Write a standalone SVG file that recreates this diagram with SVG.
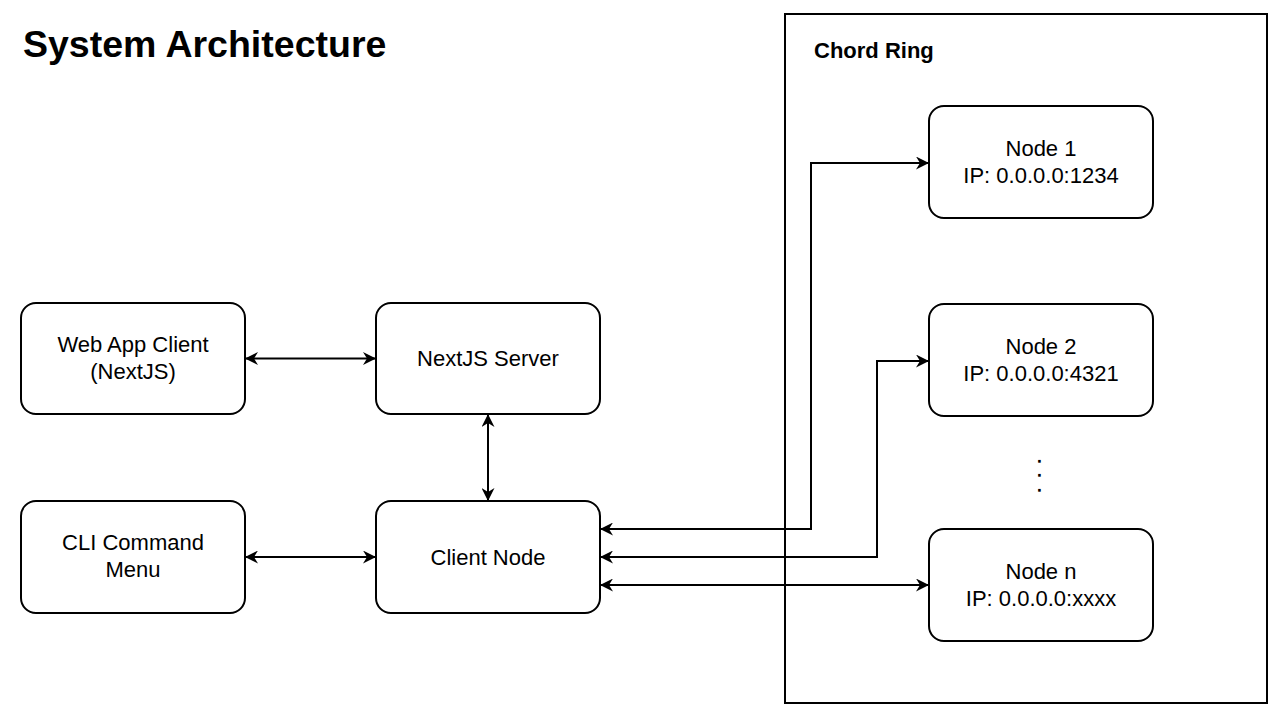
<svg xmlns="http://www.w3.org/2000/svg" width="1280" height="716" viewBox="0 0 1280 716">
  <defs>
    <style>
      .box { fill: #ffffff; stroke: #000000; stroke-width: 2; }
      .label { font-family: "Liberation Sans", Arial, Helvetica, sans-serif; font-size: 22px; fill: #000000; text-anchor: middle; }
      .dots { font-family: "Liberation Sans", Arial, Helvetica, sans-serif; font-size: 12px; fill: #000000; stroke: #000000; stroke-width: 1.4; text-anchor: middle; }
      .title { font-family: "Liberation Sans", Arial, Helvetica, sans-serif; font-weight: bold; fill: #000000; }
      .edge { fill: none; stroke: #000000; stroke-width: 2; marker-start: url(#arrow); marker-end: url(#arrow); }
    </style>
    <marker id="arrow" viewBox="0 0 13 13" refX="13" refY="6.5" markerWidth="13" markerHeight="13" markerUnits="userSpaceOnUse" orient="auto-start-reverse">
      <path d="M0,0 L13,6.5 L0,13 L4,6.5 Z" fill="#000000" stroke="none"/>
    </marker>
  </defs>
  <rect width="1280" height="716" fill="#ffffff"/>

  <text class="title" x="23" y="57" font-size="37.5">System Architecture</text>

  <g id="chord-ring">
    <rect x="785" y="14" width="482" height="689" fill="none" stroke="#000000" stroke-width="2"/>
    <text class="title" x="814" y="58" font-size="22">Chord Ring</text>
  </g>

  <g id="web-app-client">
    <rect class="box" x="21" y="303" width="224" height="111" rx="15" ry="15"/>
    <text class="label" x="133" y="352">Web App Client</text>
    <text class="label" x="133" y="379">(NextJS)</text>
  </g>

  <g id="nextjs-server">
    <rect class="box" x="376" y="303" width="224" height="111" rx="15" ry="15"/>
    <text class="label" x="488" y="366">NextJS Server</text>
  </g>

  <g id="cli-command-menu">
    <rect class="box" x="21" y="501" width="224" height="112" rx="15" ry="15"/>
    <text class="label" x="133" y="550">CLI Command</text>
    <text class="label" x="133" y="577">Menu</text>
  </g>

  <g id="client-node">
    <rect class="box" x="376" y="501" width="224" height="112" rx="15" ry="15"/>
    <text class="label" x="488" y="565">Client Node</text>
  </g>

  <g id="node-1">
    <rect class="box" x="929" y="106" width="224" height="112" rx="15" ry="15"/>
    <text class="label" x="1041" y="156">Node 1</text>
    <text class="label" x="1041" y="183">IP: 0.0.0.0:1234</text>
  </g>

  <g id="node-2">
    <rect class="box" x="929" y="304" width="224" height="112" rx="15" ry="15"/>
    <text class="label" x="1041" y="354">Node 2</text>
    <text class="label" x="1041" y="381">IP: 0.0.0.0:4321</text>
  </g>

  <g id="ellipsis">
    <text class="dots" x="1039.5" y="461.5"><tspan x="1039.5" y="461.5">.</tspan><tspan x="1039.5" y="476">.</tspan><tspan x="1039.5" y="491">.</tspan></text>
  </g>

  <g id="node-n">
    <rect class="box" x="929" y="529" width="224" height="112" rx="15" ry="15"/>
    <text class="label" x="1041" y="579">Node n</text>
    <text class="label" x="1041" y="606">IP: 0.0.0.0:xxxx</text>
  </g>

  <g id="connectors">
    <path class="edge" d="M245,358.5 L376,358.5"/>
    <path class="edge" d="M245,557 L376,557"/>
    <path class="edge" d="M488,414 L488,501"/>
    <path class="edge" d="M600,529 L811,529 L811,163 L929,163"/>
    <path class="edge" d="M600,557 L877,557 L877,361 L929,361"/>
    <path class="edge" d="M600,585 L929,585"/>
  </g>
</svg>
